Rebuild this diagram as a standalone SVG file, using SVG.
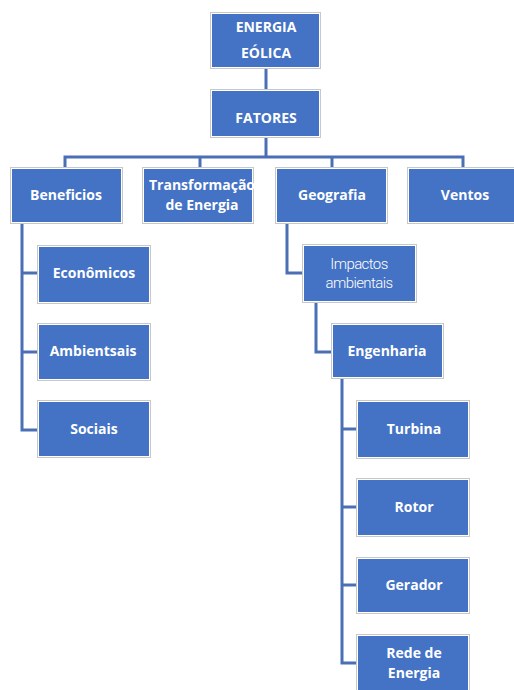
<svg xmlns="http://www.w3.org/2000/svg" width="514" height="690" viewBox="0 0 514 690">
<style>
.o{fill:#ffffff;stroke:#c8c8c8;stroke-width:1}
.b{fill:#4472c4}
.t{font-family:"Open Sans","Liberation Sans",sans-serif;font-weight:700;font-size:14px;fill:#ffffff;text-anchor:middle}
.l{font-family:Roboto,"Liberation Sans",sans-serif;font-weight:300;font-size:15px;fill:#ffffff;text-anchor:middle;letter-spacing:-0.6px}
.c{fill:none;stroke:#4a6fb5;stroke-width:3}
</style>
<rect width="514" height="690" fill="#ffffff"/>
<g id="connectors">
<path class="c" d="M266 67V90"/>
<path class="c" d="M266 137V157"/>
<path class="c" d="M65 168V157H463V168"/>
<path class="c" d="M200 157V168"/>
<path class="c" d="M332 157V168"/>
<path class="c" d="M22 223V430H38"/>
<path class="c" d="M22 273H38"/>
<path class="c" d="M22 352H38"/>
<path class="c" d="M287 223V273H303"/>
<path class="c" d="M316 303V352H332"/>
<path class="c" d="M342 378V663H357"/>
<path class="c" d="M342 429H357"/>
<path class="c" d="M342 507H357"/>
<path class="c" d="M342 585H357"/>
</g>
<g id="energia"><rect class="o" x="210.5" y="12.5" width="110" height="56"/><rect class="b" x="212" y="14" width="107" height="53"/><text class="t" x="266" y="32">ENERGIA</text><text class="t" x="266" y="58">EÓLICA</text></g>
<g id="fatores"><rect class="o" x="210.5" y="89.5" width="110" height="48"/><rect class="b" x="212" y="91" width="107" height="45"/><text class="t" x="266" y="123">FATORES</text></g>
<g id="beneficios"><rect class="o" x="10.5" y="167.5" width="112" height="56"/><rect class="b" x="12" y="169" width="109" height="53"/><text class="t" x="66" y="200">Beneficios</text></g>
<g id="transformacao"><rect class="o" x="142.5" y="167.5" width="111" height="56"/><rect class="b" x="144" y="169" width="108" height="53"/><text class="t" x="202" y="190">Transformação</text><text class="t" x="202" y="210">de Energia</text></g>
<g id="geografia"><rect class="o" x="275.5" y="167.5" width="112" height="56"/><rect class="b" x="277" y="169" width="109" height="53"/><text class="t" x="332" y="200">Geografia</text></g>
<g id="ventos"><rect class="o" x="407.5" y="167.5" width="112" height="56"/><rect class="b" x="409" y="169" width="109" height="53"/><text class="t" x="465" y="200">Ventos</text></g>
<g id="economicos"><rect class="o" x="37.5" y="245.5" width="113" height="58"/><rect class="b" x="39" y="247" width="110" height="55"/><text class="t" x="94" y="278">Econômicos</text></g>
<g id="ambientsais"><rect class="o" x="37.5" y="323.5" width="113" height="57"/><rect class="b" x="39" y="325" width="110" height="54"/><text class="t" x="93" y="356">Ambientsais</text></g>
<g id="sociais"><rect class="o" x="37.5" y="400.5" width="113" height="57"/><rect class="b" x="39" y="402" width="110" height="54"/><text class="t" x="94" y="434">Sociais</text></g>
<g id="impactos"><rect class="o" x="302.5" y="244.5" width="114" height="58"/><rect class="b" x="304" y="246" width="111" height="55"/><text class="l" x="359" y="269">Impactos</text><text class="l" x="359" y="288">ambientais</text></g>
<g id="engenharia"><rect class="o" x="331.5" y="323.5" width="112" height="55"/><rect class="b" x="333" y="325" width="109" height="52"/><text class="t" x="387" y="356">Engenharia</text></g>
<g id="turbina"><rect class="o" x="356.5" y="400.5" width="113" height="58"/><rect class="b" x="358" y="402" width="110" height="55"/><text class="t" x="414" y="434">Turbina</text></g>
<g id="rotor"><rect class="o" x="356.5" y="478.5" width="113" height="58"/><rect class="b" x="358" y="480" width="110" height="55"/><text class="t" x="414" y="512">Rotor</text></g>
<g id="gerador"><rect class="o" x="356.5" y="557.5" width="113" height="56"/><rect class="b" x="358" y="559" width="110" height="53"/><text class="t" x="414" y="590">Gerador</text></g>
<g id="rede"><rect class="o" x="356.5" y="634.5" width="113" height="60"/><rect class="b" x="358" y="636" width="110" height="57"/><text class="t" x="414" y="658">Rede de</text><text class="t" x="414" y="678">Energia</text></g>
</svg>
